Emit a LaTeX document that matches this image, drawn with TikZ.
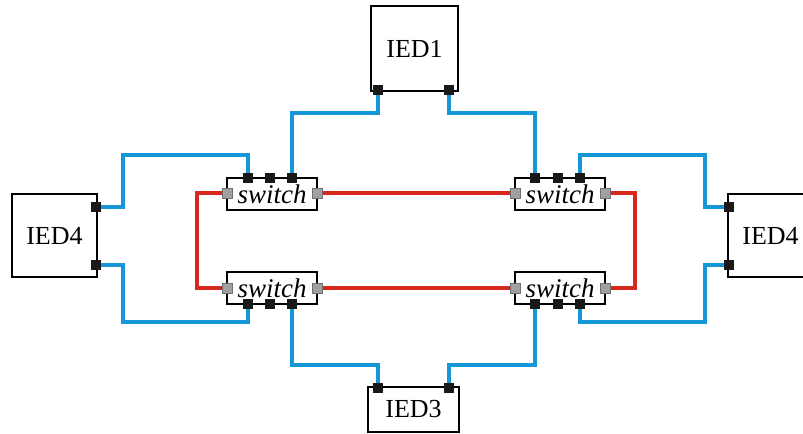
\documentclass[tikz,border=0pt]{standalone}
\usepackage{fontspec}
\setmainfont{Liberation Serif}
\usetikzlibrary{backgrounds}
\definecolor{netblue}{RGB}{20,150,215}
\definecolor{ringred}{RGB}{215,40,30}
\definecolor{portgray}{RGB}{160,160,160}
\begin{document}
\begin{tikzpicture}[x=1bp,y=-1bp,
  iedbox/.style={draw=black,line width=1.8bp,fill=white,inner sep=0pt,font=\fontsize{26bp}{30bp}\selectfont},
  swbox/.style={draw=black,line width=1.8bp,fill=white,inner sep=0pt,minimum width=90bp,minimum height=32bp,font=\fontsize{27bp}{30bp}\selectfont\itshape},
  bport/.style={fill=black!90,inner sep=0pt,minimum size=10bp},
  gport/.style={fill=portgray,draw=portgray!70!black,line width=0.4bp,inner sep=0pt,minimum size=10bp},
  blueline/.style={netblue,line width=3.4bp},
  redline/.style={ringred,line width=3.2bp}]
\useasboundingbox (0,0) rectangle (803,434);
\clip (0,0) rectangle (803,434);
% IEDs
\node[iedbox,minimum width=87bp,minimum height=85bp] (ied1) at (414.5,48.5) {IED1};
\node[iedbox,minimum width=91bp,minimum height=45bp] (ied3) at (413.5,409.5) {IED3};
\node[iedbox,minimum width=85bp,minimum height=83bp] (iedL) at (54.5,235.5) {IED4};
\node[iedbox,minimum width=85bp,minimum height=83bp] (iedR) at (770.5,235.5) {IED4};
% switches
\node[swbox] (swTL) at (272,194) {switch};
\node[swbox] (swTR) at (560,194) {switch};
\node[swbox] (swBL) at (272,288) {switch};
\node[swbox] (swBR) at (560,288) {switch};
% IED ports
\node[bport] (i1a) at (378,90) {};
\node[bport] (i1b) at (449,90) {};
\node[bport] (i3a) at (378,388) {};
\node[bport] (i3b) at (449,388) {};
\node[bport] (iLa) at (96,207) {};
\node[bport] (iLb) at (96,265) {};
\node[bport] (iRa) at (729,207) {};
\node[bport] (iRb) at (729,265) {};
% switch black ports
\node[bport] (tl1) at (248,178) {};
\node[bport] (tl2) at (270,178) {};
\node[bport] (tl3) at (292,178) {};
\node[bport] (tr1) at (535,178) {};
\node[bport] (tr2) at (558,178) {};
\node[bport] (tr3) at (580,178) {};
\node[bport] (bl1) at (248,304) {};
\node[bport] (bl2) at (270,304) {};
\node[bport] (bl3) at (292,304) {};
\node[bport] (br1) at (535,304) {};
\node[bport] (br2) at (558,304) {};
\node[bport] (br3) at (580,304) {};
% switch gray ports
\node[gport] (tlL) at (227,193) {};
\node[gport] (tlR) at (317,193) {};
\node[gport] (trL) at (515,193) {};
\node[gport] (trR) at (605,193) {};
\node[gport] (blL) at (227,288) {};
\node[gport] (blR) at (317,288) {};
\node[gport] (brL) at (515,288) {};
\node[gport] (brR) at (605,288) {};
% bend coordinates
\coordinate (bTL) at (123,155);
\coordinate (bTR) at (705,155);
\coordinate (bBL) at (123,322);
\coordinate (bBR) at (705,322);
\coordinate (bT1) at (378,113);
\coordinate (bT2) at (449,113);
\coordinate (bB1) at (378,365);
\coordinate (bB2) at (449,365);
\coordinate (rL) at (197,193);
\coordinate (rR) at (635,193);
\begin{pgfonlayer}{background}
% blue links
\draw[blueline] (tl1.center) |- (bTL) |- (iLa.center);
\draw[blueline] (tr3.center) |- (bTR) |- (iRa.center);
\draw[blueline] (bl1.center) |- (bBL) |- (iLb.center);
\draw[blueline] (br3.center) |- (bBR) |- (iRb.center);
\draw[blueline] (tl3.center) |- (bT1) -- (i1a.center);
\draw[blueline] (tr1.center) |- (bT2) -- (i1b.center);
\draw[blueline] (bl3.center) |- (bB1) -- (i3a.center);
\draw[blueline] (br1.center) |- (bB2) -- (i3b.center);
% red ring
\draw[redline] (tlR.center) -- (trL.center);
\draw[redline] (blR.center) -- (brL.center);
\draw[redline] (tlL.center) -- (rL) |- (blL.center);
\draw[redline] (trR.center) -- (rR) |- (brR.center);
\end{pgfonlayer}
\end{tikzpicture}
\end{document}
